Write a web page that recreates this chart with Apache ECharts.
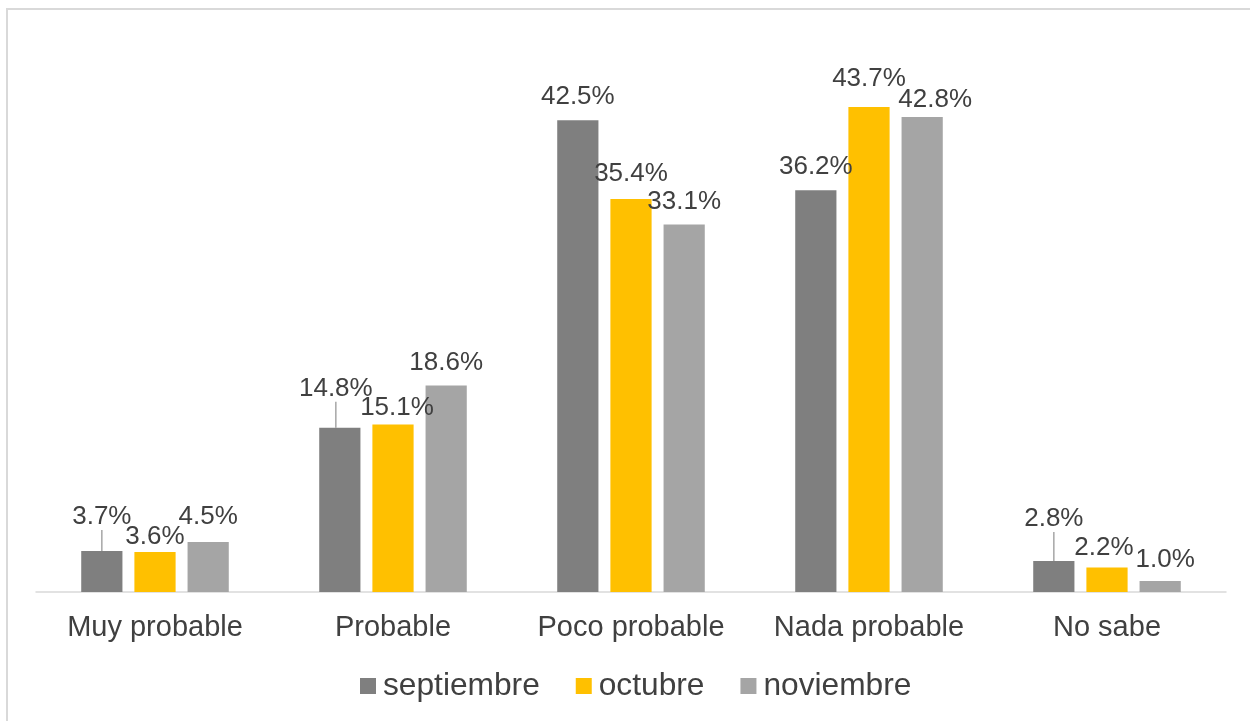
<!DOCTYPE html>
<html>
<head>
<meta charset="utf-8">
<script src="https://cdn.jsdelivr.net/npm/echarts@6/dist/echarts.min.js"></script>
<style>
  html, body { margin: 0; padding: 0; background: #fff; }
  #chart { width: 1250px; height: 721px; }
</style>
</head>
<body>
<div id="chart"></div>
<script>
// categorías y porcentajes por mes
const categories = ['Muy probable', 'Probable', 'Poco probable', 'Nada probable', 'No sabe'];
const septiembre = [3.7, 14.8, 42.5, 36.2, 2.8];
const octubre = [3.6, 15.1, 35.4, 43.7, 2.2];
const noviembre = [4.5, 18.6, 33.1, 42.8, 1.0];

// desplazamientos de etiquetas como en el original [dx, dy]
const labelShift = {
  0: { 0: [0, -11], 1: [-4, -16], 4: [0, -19] },
  1: { 0: [0, 8], 1: [4, 6], 2: [0, -2], 3: [0, -5], 4: [-3, 3] },
  2: { 0: [0, -2], 3: [13, 6], 4: [5, 2] }
};
const leaderLines = { 0: [0, 1, 4] };

const chart = echarts.init(document.getElementById('chart'));

function makeSeries(name, values, color, idx) {
  const lines = leaderLines[idx] || [];
  return {
    name: name,
    type: 'bar',
    barGap: '29%',
    barCategoryGap: '38%',
    itemStyle: { color: color },
    data: values.map((v, i) => lines.indexOf(i) >= 0
      ? { value: v, labelLine: { show: true } }
      : v),
    label: {
      show: true,
      position: 'top',
      distance: 10,
      fontSize: 26,
      fontFamily: 'Liberation Sans, Arial, sans-serif',
      color: '#404040',
      formatter: p => p.value.toFixed(1) + '%'
    },
    labelLine: {
      show: false,
      lineStyle: { color: '#a6a6a6', width: 1.5 }
    },
    labelLayout: function (params) {
      const s = labelShift[idx] && labelShift[idx][params.dataIndex];
      return s ? { dx: s[0], dy: s[1] } : {};
    }
  };
}

chart.setOption({
  animation: false,
  graphic: [{
    type: 'rect',
    shape: { x: 7, y: 9, width: 1400, height: 900 },
    style: { fill: 'none', stroke: '#d9d9d9', lineWidth: 2 },
    silent: true
  }],
  grid: { left: 36, right: 24, top: 37, bottom: 129 },
  legend: {
    left: 360,
    top: 670,
    padding: 0,
    itemWidth: 16,
    itemHeight: 16,
    itemGap: 36,
    icon: 'rect',
    textStyle: {
      fontSize: 31.7,
      color: '#404040',
      padding: [0, 0, 0, 2],
      fontFamily: 'Liberation Sans, Arial, sans-serif'
    },
    data: ['septiembre', 'octubre', 'noviembre']
  },
  xAxis: {
    type: 'category',
    data: categories,
    axisLine: { lineStyle: { color: '#d9d9d9', width: 1.5 } },
    axisTick: { show: false },
    axisLabel: {
      interval: 0,
      fontSize: 29,
      margin: 21,
      color: '#404040',
      fontFamily: 'Liberation Sans, Arial, sans-serif'
    }
  },
  yAxis: {
    type: 'value',
    min: 0,
    max: 50,
    show: false,
    splitLine: { show: false }
  },
  series: [
    makeSeries('septiembre', septiembre, '#7f7f7f', 0),
    makeSeries('octubre', octubre, '#ffc000', 1),
    makeSeries('noviembre', noviembre, '#a5a5a5', 2)
  ]
});
</script>
</body>
</html>
